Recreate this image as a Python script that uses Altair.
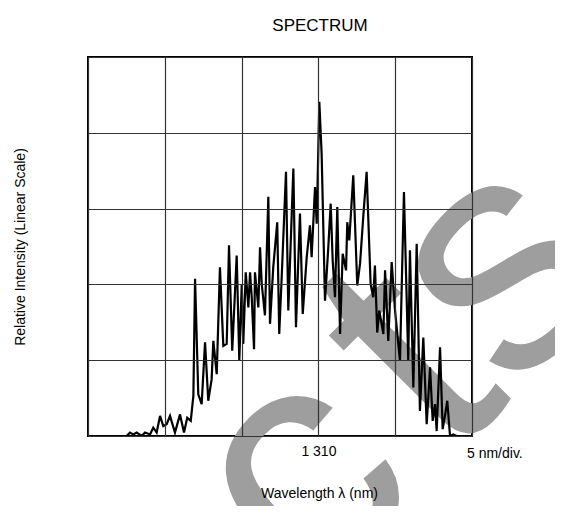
import altair as alt
import pandas as pd

wavelength_nm = [
    1297.52, 1297.73, 1297.95, 1298.17, 1298.50, 1298.71, 1299.04, 1299.25, 1299.47, 1299.69,
    1299.90, 1300.12, 1300.34, 1300.66, 1300.99, 1301.25, 1301.46, 1301.69, 1301.86, 1301.97,
    1302.18, 1302.40, 1302.62, 1302.83, 1303.05, 1303.16, 1303.38, 1303.59, 1303.81, 1304.03,
    1304.18, 1304.39, 1304.68, 1304.85, 1305.01, 1305.11, 1305.27, 1305.44, 1305.55, 1305.66,
    1305.81, 1305.87, 1306.09, 1306.20, 1306.31, 1306.52, 1306.74, 1306.85, 1307.06, 1307.32,
    1307.45, 1307.61, 1307.89, 1308.04, 1308.37, 1308.54, 1308.80, 1308.98, 1309.24, 1309.45,
    1309.56, 1309.78, 1309.89, 1310.06, 1310.21, 1310.43, 1310.64, 1310.80, 1310.93, 1311.08,
    1311.23, 1311.41, 1311.58, 1311.80, 1311.88, 1312.01, 1312.27, 1312.53, 1312.71, 1312.92,
    1313.14, 1313.40, 1313.57, 1313.68, 1313.83, 1313.96, 1314.23, 1314.34, 1314.55, 1314.77,
    1314.99, 1315.31, 1315.57, 1315.85, 1315.96, 1316.18, 1316.40, 1316.61, 1316.83, 1317.05,
    1317.27, 1317.44, 1317.59, 1317.70, 1317.92, 1318.09, 1318.24, 1318.39, 1318.57, 1318.78,
    1319.00,
]
intensity = [
    0.0, 0.9, 0.4, 0.9, 0.0, 0.9, 0.4, 2.2, 0.9, 5.3,
    2.6, 3.1, 5.3, 0.9, 5.7, 0.9, 4.8, 4.0, 10.6, 41.5,
    11.0, 8.4, 24.7, 9.3, 15.0, 25.1, 16.3, 44.5, 23.8, 24.3,
    50.3, 22.5, 47.6, 19.8, 40.1, 24.3, 43.2, 33.9, 43.2, 36.6,
    22.9, 43.2, 33.9, 49.8, 40.1, 31.8, 63.1, 29.6, 44.5, 56.4,
    26.9, 41.9, 69.7, 33.1, 70.6, 28.7, 58.7, 32.2, 47.2, 55.6,
    47.2, 65.7, 56.0, 88.2, 74.5, 35.7, 49.4, 61.3, 46.3, 36.6,
    60.4, 26.9, 48.1, 43.7, 56.4, 51.6, 68.8, 39.7, 45.4, 57.8,
    69.7, 40.1, 36.6, 45.0, 27.3, 33.1, 26.9, 43.7, 25.1, 45.9,
    33.1, 19.8, 64.4, 19.8, 49.0, 12.8, 50.7, 6.6, 26.0, 3.1,
    18.1, 4.0, 8.4, 1.3, 23.4, 1.8, 5.3, 9.3, 0.0, 0.4,
    0.0,
]
x_grid = [1295, 1300, 1305, 1310, 1315, 1320]
y_grid = [0, 20, 40, 60, 80, 100]

# decorative watermark letters (pixel placement inside the plot area)
wm_letters = ["c", "t", "s"]
wm_px = [212, 323, 412]
wm_py = [421, 303, 211]
note_text = ["5 nm/div."]

df = pd.DataFrame({"wl": wavelength_nm, "inten": intensity})
FONT = "Liberation Sans"

watermark = alt.Chart(pd.DataFrame({"t": wm_letters, "px": wm_px, "py": wm_py})).mark_text(
    font=FONT, fontSize=330, fontWeight="normal", color="#9e9e9e",
    angle=315, align="center", baseline="middle",
).encode(
    text="t:N",
    x=alt.X("px:Q", scale=None, axis=None),
    y=alt.Y("py:Q", scale=None, axis=None),
)

line = alt.Chart(df).mark_line(color="black", strokeWidth=2.2, clip=True).encode(
    x=alt.X(
        "wl:Q",
        scale=alt.Scale(domain=[1295, 1320], nice=False, zero=False),
        axis=alt.Axis(
            values=x_grid, labelExpr="datum.value == 1310 ? '1 310' : ''",
            ticks=False, domain=False, grid=True, labelFontSize=14, labelFont=FONT,
            labelColor="black", labelPadding=8, zindex=1,
            title="Wavelength  λ (nm)", titleFont=FONT, titleFontSize=14,
            titleFontWeight="normal", titleColor="black",
            titleX=231, titleY=57, titleBaseline="middle", titleAlign="center",
        ),
    ),
    y=alt.Y(
        "inten:Q",
        scale=alt.Scale(domain=[0, 100], nice=False),
        axis=alt.Axis(
            values=y_grid, labels=False, ticks=False, domain=False, grid=True, zindex=1,
            title="Relative Intensity (Linear Scale)", titleFont=FONT,
            titleFontSize=14, titleFontWeight="normal", titleColor="black",
            titlePadding=61,
        ),
    ),
)

note = alt.Chart(pd.DataFrame({"t": note_text})).mark_text(
    font=FONT, fontSize=14, color="black", align="left", baseline="middle"
).encode(text="t:N", x=alt.value(379), y=alt.value(397))

chart = alt.layer(watermark, line, note).resolve_scale(x="independent", y="independent").properties(
    width=384,
    height=379,
    padding={"left": 80, "top": 49, "right": 83, "bottom": 70},
    autosize=alt.AutoSizeParams(type="none"),
    title=alt.TitleParams(
        "SPECTRUM", font=FONT, fontSize=17, fontWeight="normal", color="black",
        dx=40, offset=22,
    ),
).configure_view(stroke="black", strokeWidth=2).configure_axis(
    gridColor="#333", gridWidth=1.2, gridOpacity=1
)

chart.save("out.html", embed_options={"renderer": "svg", "actions": False})
